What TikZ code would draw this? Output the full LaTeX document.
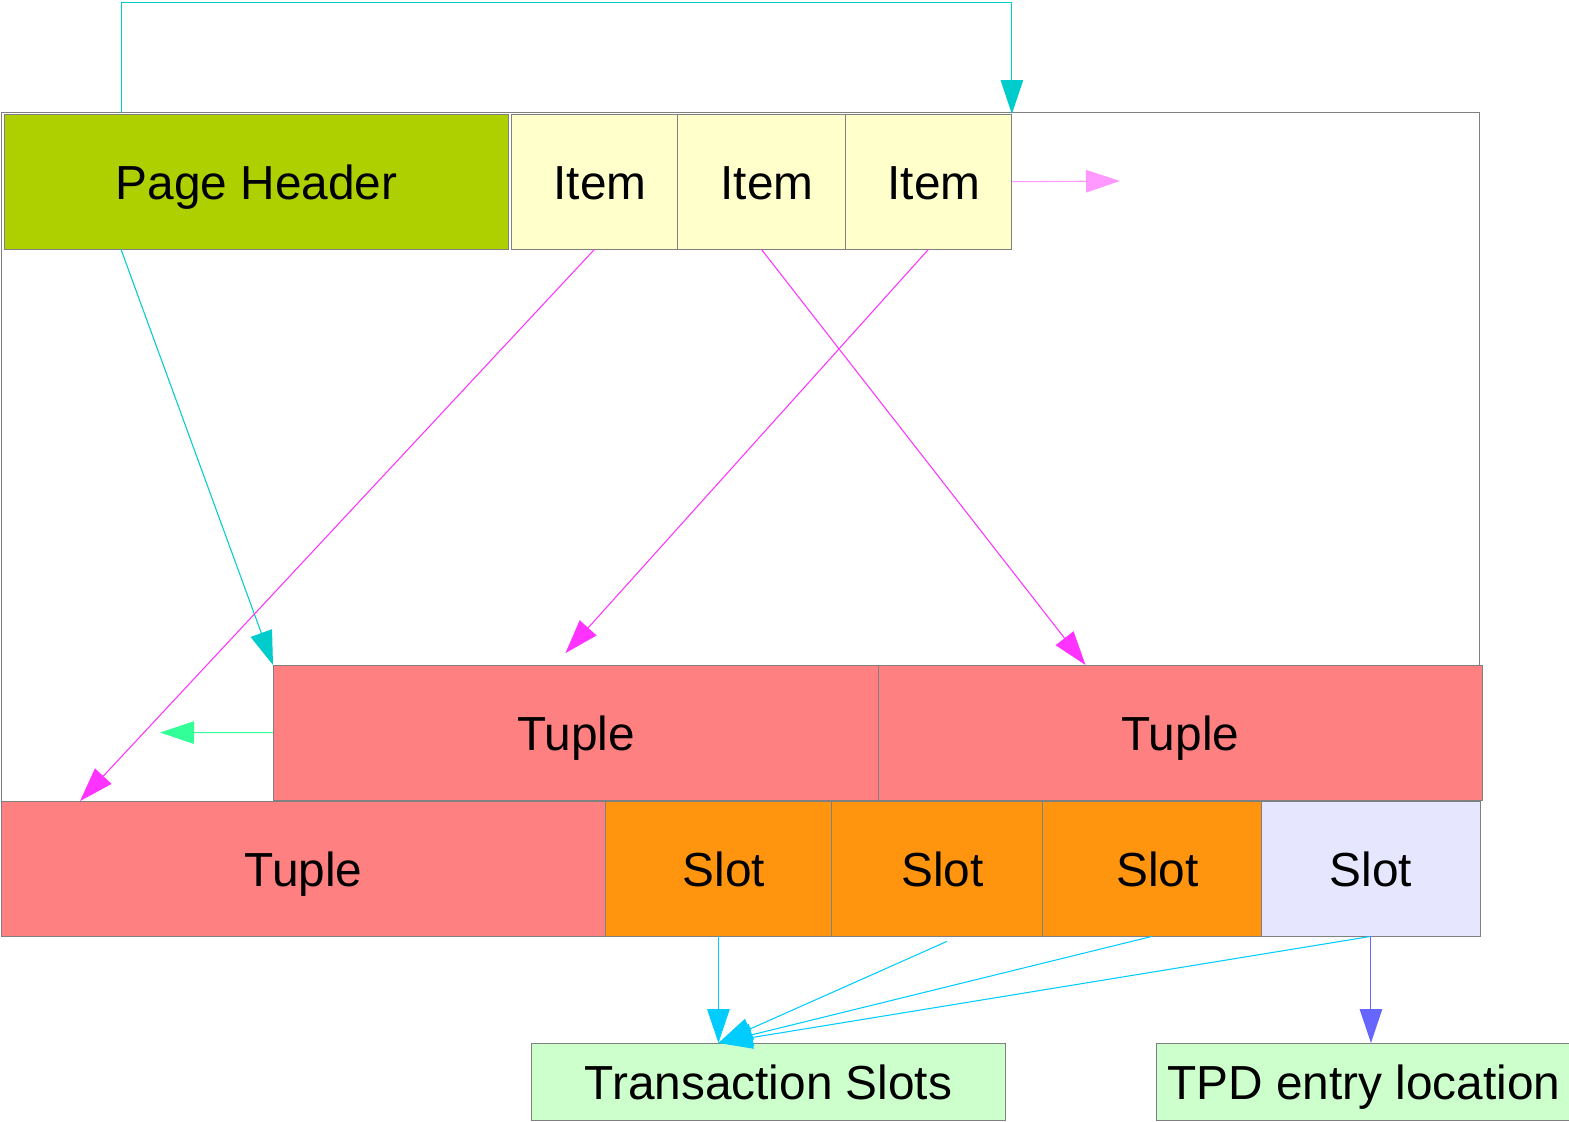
\documentclass[tikz,border=0pt]{standalone}
\usepackage{fontspec}
\setmainfont{Liberation Sans}
\usetikzlibrary{arrows.meta,calc}
\definecolor{hdrG}{RGB}{175,208,0}
\definecolor{itemY}{RGB}{255,255,204}
\definecolor{tupR}{RGB}{255,128,128}
\definecolor{slotO}{RGB}{255,149,14}
\definecolor{slotL}{RGB}{230,230,255}
\definecolor{outG}{RGB}{204,255,204}
\definecolor{lnkT}{RGB}{0,204,204}
\definecolor{lnkM}{RGB}{255,51,255}
\definecolor{lnkP}{RGB}{255,153,255}
\definecolor{lnkG}{RGB}{51,255,153}
\definecolor{lnkC}{RGB}{0,204,255}
\definecolor{lnkB}{RGB}{102,102,255}

\begin{document}
\begin{tikzpicture}[>={Triangle[length=0.68cm,width=0.45cm]},
  cell/.style={draw=gray,line width=0.5pt,anchor=north west,inner sep=0pt,
    minimum height=2.69cm,text height=0.7cm,text depth=0pt,
    font=\fontsize{27.2}{33}\selectfont},
  cellr/.style={cell,execute at begin node=\hspace*{0.22cm}},
  link/.style={->,line width=0.6pt}]
\useasboundingbox (0,0) rectangle (31.38,-22.42);
% page frame
\draw[gray,line width=0.5pt] (0.03,-2.25) rectangle (29.59,-18.73);
% header and item pointers
\node[cell,fill=hdrG,minimum width=10.07cm] (hdr) at (0.09,-2.28) {Page Header};
\node[cellr,fill=itemY,minimum width=3.32cm] (item1) at (10.22,-2.28) {Item};
\node[cellr,fill=itemY,minimum width=3.36cm] (item2) at (13.54,-2.28) {Item};
\node[cellr,fill=itemY,minimum width=3.32cm] (item3) at (16.90,-2.28) {Item};
% tuples
\node[cell,fill=tupR,minimum width=12.10cm] (tupA) at (5.46,-13.30) {Tuple};
\node[cell,fill=tupR,minimum width=12.08cm] (tupB) at (17.56,-13.30) {Tuple};
\node[cell,fill=tupR,minimum width=12.07cm] (tupC) at (0.03,-16.02) {Tuple};
% special space
\node[cellr,fill=slotO,minimum width=4.52cm] (slot1) at (12.10,-16.02) {Slot};
\node[cellr,fill=slotO,minimum width=4.22cm] (slot2) at (16.62,-16.02) {Slot};
\node[cellr,fill=slotO,minimum width=4.38cm] (slot3) at (20.84,-16.02) {Slot};
\node[cell,fill=slotL,minimum width=4.38cm] (slot4) at (25.22,-16.02) {Slot};
\node[cell,fill=outG,minimum width=9.48cm,minimum height=1.53cm] (ts) at (10.62,-20.86) {Transaction Slots};
\node[cell,fill=outG,minimum width=8.30cm,minimum height=1.53cm] (tpd) at (23.12,-20.86) {TPD entry location};

\coordinate (hdrtap) at (2.43,-2.25);
\coordinate (loop) at (2.43,-0.055);
\coordinate (more) at (22.40,-3.62);
\coordinate (back) at (3.20,-14.65);
\coordinate (tsin) at (slot1.south |- ts.north);

\draw[link,lnkT] (hdrtap) |- (loop -| item3.north east) -- (item3.north east);
\draw[link,lnkT] ($(hdr.south west)!0.231!(hdr.south east)$) -- (tupA.north west);
\draw[link,lnkP] (item3.east) -- (more);
\draw[link,lnkM] (item1.south) -- ($(tupC.north west)!0.13!(tupC.north east)$);
\draw[link,lnkM] (item2.south) -- ($(tupB.north west)!0.343!(tupB.north east)$);
\draw[link,lnkM,shorten >=0.32cm] (item3.south) -- ($(tupA.north west)!0.465!(tupA.north east)$);
\draw[link,lnkG] (tupA.west) -- (back);

\foreach \s in {slot1,slot3,slot4}
  \draw[link,lnkC] (\s.south) -- (tsin);
\draw[link,lnkC] ($(slot2.south)+(0.2,-0.1)$) -- (tsin);
\draw[link,lnkB] (slot4.south) -- (slot4.south |- tpd.north);
\end{tikzpicture}
\end{document}
